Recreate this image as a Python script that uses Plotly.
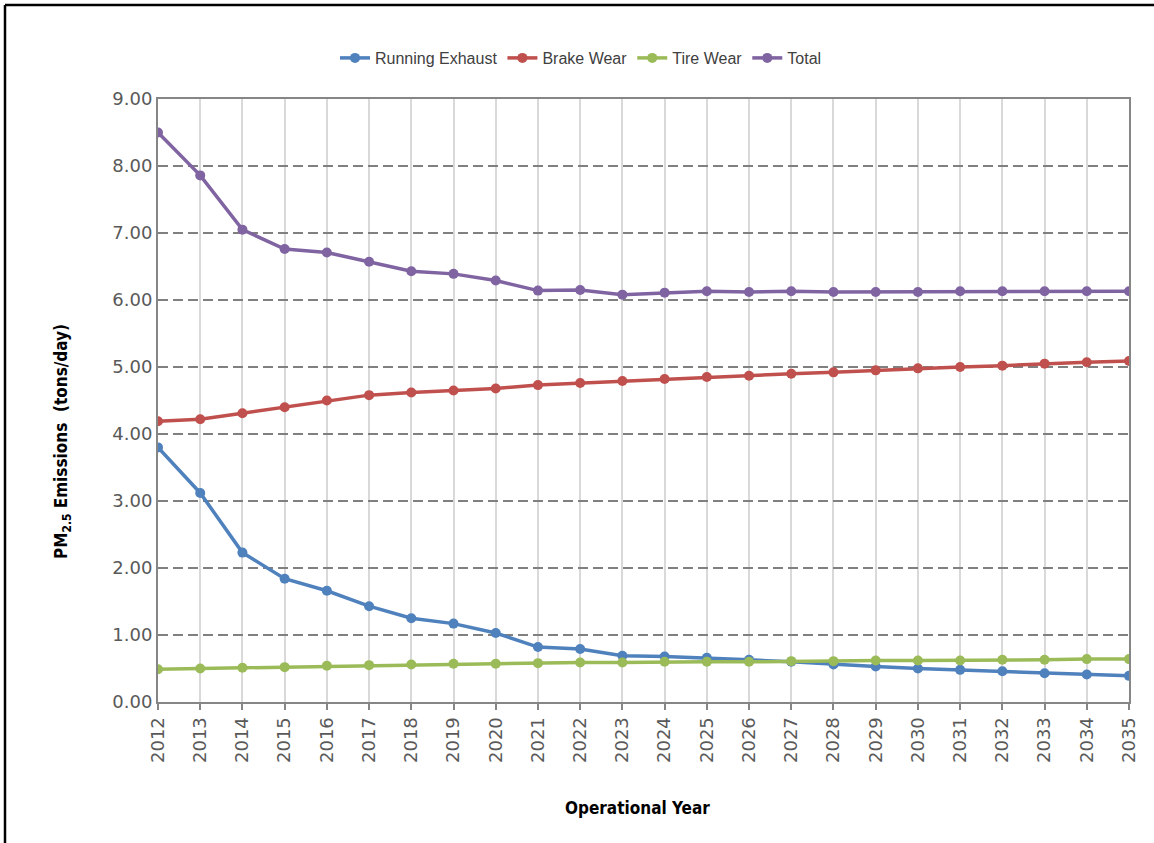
import plotly.graph_objects as go

years = list(range(2012, 2036))
running_exhaust = [3.80, 3.12, 2.23, 1.84, 1.66, 1.43, 1.25, 1.17, 1.03, 0.82, 0.79, 0.69,
                   0.68, 0.66, 0.63, 0.60, 0.56, 0.53, 0.50, 0.48, 0.46, 0.43, 0.41, 0.39]
brake_wear = [4.19, 4.22, 4.31, 4.40, 4.50, 4.58, 4.62, 4.65, 4.68, 4.73, 4.76, 4.79,
              4.82, 4.85, 4.87, 4.90, 4.92, 4.95, 4.98, 5.00, 5.02, 5.05, 5.07, 5.09]
tire_wear = [0.49, 0.50, 0.51, 0.52, 0.54, 0.55, 0.56, 0.57, 0.57, 0.58, 0.59, 0.59,
             0.60, 0.60, 0.60, 0.61, 0.61, 0.62, 0.62, 0.62, 0.63, 0.63, 0.64, 0.64]
total = [8.50, 7.86, 7.05, 6.76, 6.71, 6.57, 6.43, 6.39, 6.29, 6.14, 6.15, 6.08,
         6.11, 6.13, 6.12, 6.13, 6.12, 6.12, 6.12, 6.13, 6.13, 6.13, 6.13, 6.13]
y_ticks = [0, 1, 2, 3, 4, 5, 6, 7, 8, 9]

series = [
    ("Running Exhaust", running_exhaust, "#4F81BD"),
    ("Brake Wear", brake_wear, "#C0504D"),
    ("Tire Wear", tire_wear, "#9BBB59"),
    ("Total", total, "#8064A2"),
]

fig = go.Figure()
for name, vals, color in series:
    fig.add_trace(go.Scatter(
        x=years, y=vals, name=name, mode="lines+markers",
        line=dict(color=color, width=3.5),
        marker=dict(color=color, size=10),
    ))

W, H = 1154, 843
# target page coordinates of plot area
PL, PR, PT, PB = 158, 1129, 99, 702
ml, mr, mt, mb = PL, W - PR, PT, H - PB
pw, ph = PR - PL, PB - PT


def px(xp):
    return (xp - PL) / pw


def py(yp):
    return (PB - yp) / ph


fig.update_layout(
    width=W, height=H,
    margin=dict(l=ml, r=mr, t=mt, b=mb),
    paper_bgcolor="white", plot_bgcolor="white",
    showlegend=True,
    legend=dict(orientation="h", x=px(581), xanchor="center", y=py(58), yanchor="middle",
                font=dict(family="Liberation Sans, Arial", size=16, color="#404040"),
                tracegroupgap=0),
    xaxis=dict(
        range=[2012, 2035], tickmode="array", tickvals=years,
        ticktext=[str(y) for y in years], tickangle=-90,
        tickfont=dict(family="DejaVu Sans, Verdana", size=18, color="#595959"),
        showgrid=True, gridcolor="#D9D9D9", gridwidth=2,
        showline=True, linecolor="#868686", linewidth=2, mirror=True,
        ticks="outside", ticklen=6, tickcolor="#868686", tickwidth=2,
        zeroline=False,
    ),
    yaxis=dict(
        range=[0, 9], tickmode="array", tickvals=y_ticks,
        ticktext=[f"{v:.2f}" for v in y_ticks],
        tickfont=dict(family="DejaVu Sans, Verdana", size=18, color="#595959"),
        showgrid=True, gridcolor="#808080", gridwidth=2, griddash="10px,5px",
        showline=True, linecolor="#868686", linewidth=2, mirror=True,
        ticks="", zeroline=False,
    ),
)

fig.add_annotation(
    text="<b>Operational Year</b>", xref="paper", yref="paper",
    x=px(637), y=py(808), xanchor="center", yanchor="middle", showarrow=False,
    font=dict(family="DejaVu Sans Condensed, DejaVu Sans", size=17, color="black"),
)
fig.add_annotation(
    text="<b>PM<sub>2.5</sub> Emissions  (tons/day)</b>", xref="paper", yref="paper",
    x=px(62), y=py(442), xanchor="center", yanchor="middle", textangle=-90, showarrow=False,
    font=dict(family="DejaVu Sans Condensed, DejaVu Sans", size=17, color="black"),
)

# outer chart border (left and top visible)
bx, by = 5, 5
fig.add_shape(type="line", xref="paper", yref="paper",
              x0=px(bx), x1=px(W + 10), y0=py(by), y1=py(by),
              line=dict(color="black", width=2.5))
fig.add_shape(type="line", xref="paper", yref="paper",
              x0=px(bx), x1=px(bx), y0=py(by), y1=py(H + 10),
              line=dict(color="black", width=2.5))

fig.write_html(
    "out.html",
    config={"displayModeBar": False},
    post_script="document.body.style.margin='0';document.body.style.overflow='hidden';",
)
